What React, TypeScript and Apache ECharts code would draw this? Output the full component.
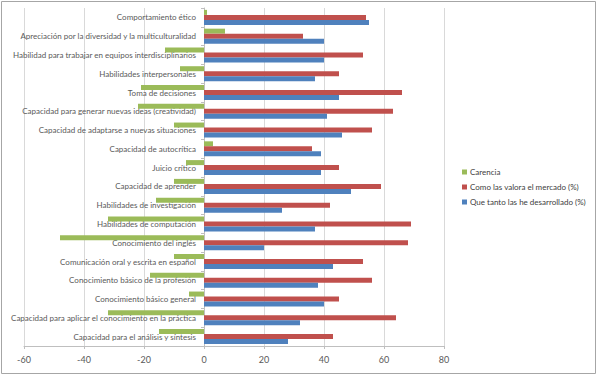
import React, { useEffect, useRef } from "react";
import * as echarts from "echarts";

const categories = [
  "Comportamiento ético",
  "Apreciación por la diversidad y la multiculturalidad",
  "Habilidad para trabajar en equipos interdisciplinarios",
  "Habilidades interpersonales",
  "Toma de decisiones",
  "Capacidad para generar nuevas ideas (creatividad)",
  "Capacidad de adaptarse a nuevas situaciones",
  "Capacidad de autocrítica",
  "Juicio crítico",
  "Capacidad de aprender",
  "Habilidades de investigación",
  "Habilidades de computación",
  "Conocimiento del inglés",
  "Comunicación oral y escrita en español",
  "Conocimiento básico de la profesión",
  "Conocimiento básico general",
  "Capacidad para aplicar el conocimiento en la práctica",
  "Capacidad para el análisis y síntesis",
];

const carencia = [1, 7, -13, -8, -21, -22, -10, 3, -6, -10, -16, -32, -48, -10, -18, -5, -32, -15];
const mercado = [54, 33, 53, 45, 66, 63, 56, 36, 45, 59, 42, 69, 68, 53, 56, 45, 64, 43];
const desarrollado = [55, 40, 40, 37, 45, 41, 46, 39, 39, 49, 26, 37, 20, 43, 38, 40, 32, 28];

const xTicks = { min: -60, max: 80, interval: 20 };

const seriesNames = [
  "Carencia",
  "Como las valora el mercado (%)",
  "Que tanto las he desarrollado (%)",
];
const colors = ["#9BBB59", "#C0504D", "#4F81BD"];

const GRID_LEFT = 24;
const GRID_RIGHT = 154;
const WIDTH = 598;

export default function App() {
  const ref = useRef<HTMLDivElement>(null);
  useEffect(() => {
    if (!ref.current) return;
    const chart = echarts.init(ref.current, null, { renderer: "svg" });
    const font = "Lato, 'Liberation Sans', sans-serif";
    const values = [carencia, mercado, desarrollado];
    const plotW = WIDTH - GRID_LEFT - GRID_RIGHT;
    const zeroOffset = ((0 - xTicks.min) / (xTicks.max - xTicks.min)) * plotW;
    chart.setOption({
      animation: false,
      textStyle: { fontFamily: font },
      graphic: [
        {
          type: "rect",
          shape: { x: 1.5, y: 1.5, width: 594, height: 372 },
          style: { fill: "none", stroke: "#a6a6a6", lineWidth: 1 },
          silent: true,
        },
      ],
      grid: {
        left: GRID_LEFT,
        right: GRID_RIGHT,
        top: 8,
        bottom: 30,
        containLabel: false,
        outerBoundsMode: "none",
      },
      legend: {
        orient: "vertical",
        left: 457,
        top: 163,
        itemWidth: 5,
        itemHeight: 5,
        itemGap: 7,
        icon: "rect",
        data: seriesNames,
        textStyle: { fontSize: 8, color: "#404040", fontFamily: font, padding: [0, 0, 0, -2] },
      },
      xAxis: {
        type: "value",
        min: xTicks.min,
        max: xTicks.max,
        interval: xTicks.interval,
        axisLine: { show: true, lineStyle: { color: "#bfbfbf" } },
        axisTick: { show: true, length: 3, lineStyle: { color: "#bfbfbf" } },
        axisLabel: { fontSize: 9, color: "#595959", margin: 9, fontFamily: font },
        splitLine: { show: true, lineStyle: { color: "#d9d9d9", width: 1 } },
      },
      yAxis: {
        type: "category",
        inverse: true,
        data: categories,
        position: "left",
        offset: -zeroOffset,
        axisLine: { show: true, onZero: false, lineStyle: { color: "#bfbfbf" } },
        axisTick: { show: true, length: 3, lineStyle: { color: "#bfbfbf" } },
        axisLabel: { fontSize: 8, color: "#595959", margin: 8, fontFamily: font, padding: [2, 0, 0, 0] },
        splitLine: { show: false },
      },
      series: seriesNames.map((name, i) => ({
        name,
        type: "bar",
        data: values[i],
        barGap: "0%",
        barCategoryGap: "20%",
        itemStyle: { color: colors[i] },
      })),
    });
    return () => chart.dispose();
  }, []);
  return (
    <div
      ref={ref}
      style={{ position: "fixed", left: 0, top: 0, width: 598, height: 376, background: "#fff" }}
    />
  );
}
